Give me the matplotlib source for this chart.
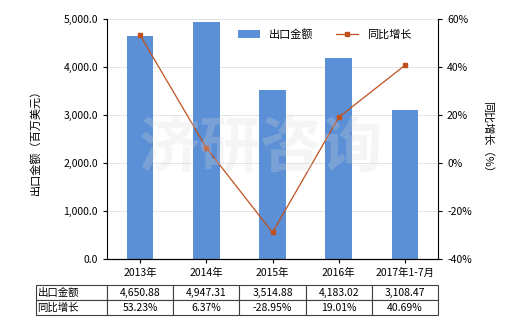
import matplotlib
matplotlib.use("Agg")
import matplotlib.pyplot as plt
from matplotlib.ticker import FuncFormatter

plt.rcParams['font.family'] = ['Noto Sans CJK SC', 'DejaVu Sans']
plt.rcParams['axes.unicode_minus'] = False

categories = ["2013年", "2014年", "2015年", "2016年", "2017年1-7月"]
export_value = [4650.88, 4947.31, 3514.88, 4183.02, 3108.47]
growth = [53.23, 6.37, -28.95, 19.01, 40.69]
value_labels = ["4,650.88", "4,947.31", "3,514.88", "4,183.02", "3,108.47"]
growth_labels = ["53.23%", "6.37%", "-28.95%", "19.01%", "40.69%"]

bar_color = "#5B8FD6"
line_color = "#C0501E"
fs = 7.5

fig = plt.figure(figsize=(5.2, 3.3), dpi=100)
ax = fig.add_axes([107 / 520, 1 - 259 / 330, 331 / 520, 240 / 330])
ax2 = ax.twinx()

x = list(range(len(categories)))
bars = ax.bar(x, export_value, width=0.4, color=bar_color, label="出口金额", zorder=2)
ax.set_xlim(-0.5, len(categories) - 0.5)
ax.set_ylim(0, 5000)
ax.set_yticks([0, 1000, 2000, 3000, 4000, 5000])
ax.yaxis.set_major_formatter(FuncFormatter(lambda v, p: f"{v:,.1f}"))
ax.grid(axis="y", color="#e0e0e0", linewidth=0.6, zorder=0)
ax.set_xticks(x)
ax.set_xticklabels(categories, fontsize=fs)
ax.tick_params(axis="both", labelsize=fs, length=3, width=0.8, direction="out")
ax.set_ylabel("出口金额（百万美元）", fontsize=fs + 0.5, labelpad=16)

line, = ax2.plot(x, growth, color=line_color, linewidth=0.9, marker="s",
                 markersize=3.5, label="同比增长", zorder=3)
ax2.set_ylim(-40, 60)
ax2.set_yticks([-40, -20, 0, 20, 40, 60])
ax2.yaxis.set_major_formatter(FuncFormatter(lambda v, p: f"{v:.0f}%"))
ax2.tick_params(axis="y", labelsize=fs, length=3, width=0.8)
ax2.set_ylabel("同比增长（%）", fontsize=fs + 0.5, rotation=-90, labelpad=15)

for a in (ax, ax2):
    a.spines["top"].set_visible(False)
ax.spines["right"].set_visible(False)
ax2.spines["left"].set_visible(False)

ax.legend([bars, line], ["出口金额", "同比增长"], loc="upper right",
          bbox_to_anchor=(0.95, 1.0), ncol=2, frameon=False, fontsize=fs + 0.5,
          handlelength=2.0, columnspacing=2.0)

# watermark
fig.text(0.5, 0.55, "济研咨询", fontsize=44, color="#d8d8d8", alpha=0.25,
         ha="center", va="center", fontweight="bold", zorder=10)

# data table under the chart
cell_text = [["出口金额"] + value_labels, ["同比增长"] + growth_labels]
label_w = 71 / 331
data_w = 1.0 / 5
tbl = ax.table(cellText=cell_text, cellLoc="center",
               colWidths=[label_w] + [data_w] * 5,
               bbox=[-label_w, -0.235, label_w + 1.0, 0.125])
tbl.auto_set_font_size(False)
tbl.set_fontsize(fs)
for (r, c), cell in tbl.get_celld().items():
    cell.set_edgecolor("#404040")
    cell.set_linewidth(0.8)
    if c == 0:
        cell.get_text().set_ha("left")
        cell.PAD = 0.02

fig.savefig("out.png", dpi=100)
